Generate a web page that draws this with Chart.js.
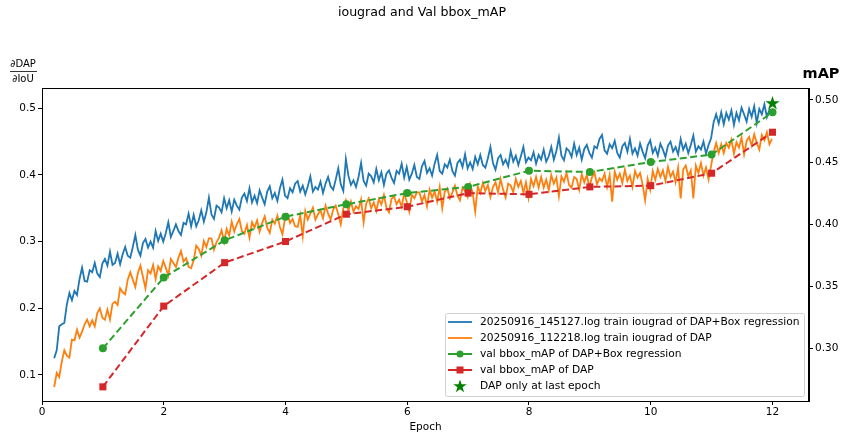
<!DOCTYPE html>
<html>
<head>
<meta charset="utf-8">
<script src="https://cdn.jsdelivr.net/npm/chart.js@4.4.1/dist/chart.umd.min.js"></script>
<style>
  html, body { margin: 0; padding: 0; background: #fff; }
  #wrap { width: 844px; height: 435px; position: relative; }
</style>
</head>
<body>
<div id="wrap"><canvas id="chart"></canvas></div>
<script>
// iougrad (left axis) per training iteration + val bbox_mAP per epoch (right axis).

// Training logs: one value every 1/24 epoch, starting at epoch 0.2 (one row = one epoch).
const trainEpochStart = 0.2;
const trainPointsPerEpoch = 24;

const iougradBoxReg = [
  0.125, 0.137, 0.173, 0.176, 0.178, 0.206, 0.223, 0.212, 0.226, 0.220, 0.244, 0.261, 0.241, 0.240, 0.257, 0.254, 0.268, 0.252, 0.247, 0.267, 0.274, 0.264, 0.285, 0.265,
  0.268, 0.282, 0.266, 0.281, 0.292, 0.279, 0.276, 0.292, 0.310, 0.288, 0.279, 0.298, 0.304, 0.291, 0.300, 0.291, 0.316, 0.301, 0.312, 0.300, 0.313, 0.329, 0.307, 0.316,
  0.326, 0.316, 0.310, 0.328, 0.326, 0.342, 0.323, 0.340, 0.323, 0.332, 0.347, 0.330, 0.344, 0.366, 0.341, 0.334, 0.354, 0.351, 0.344, 0.365, 0.350, 0.362, 0.345, 0.363,
  0.354, 0.348, 0.366, 0.372, 0.361, 0.380, 0.359, 0.369, 0.358, 0.377, 0.366, 0.356, 0.375, 0.383, 0.365, 0.373, 0.361, 0.380, 0.393, 0.369, 0.365, 0.380, 0.374, 0.387,
  0.391, 0.375, 0.384, 0.371, 0.383, 0.398, 0.375, 0.382, 0.378, 0.390, 0.373, 0.387, 0.397, 0.383, 0.378, 0.393, 0.410, 0.386, 0.376, 0.424, 0.399, 0.385, 0.392, 0.382,
  0.397, 0.418, 0.391, 0.384, 0.402, 0.398, 0.389, 0.409, 0.392, 0.404, 0.385, 0.402, 0.407, 0.396, 0.388, 0.406, 0.402, 0.417, 0.396, 0.412, 0.393, 0.402, 0.415, 0.397,
  0.394, 0.413, 0.421, 0.403, 0.410, 0.399, 0.417, 0.430, 0.406, 0.402, 0.416, 0.411, 0.423, 0.406, 0.399, 0.418, 0.423, 0.412, 0.431, 0.410, 0.419, 0.409, 0.427, 0.416,
  0.430, 0.415, 0.411, 0.425, 0.442, 0.418, 0.408, 0.425, 0.430, 0.416, 0.423, 0.413, 0.436, 0.420, 0.429, 0.415, 0.428, 0.442, 0.419, 0.426, 0.422, 0.434, 0.417, 0.430,
  0.423, 0.438, 0.420, 0.428, 0.442, 0.423, 0.436, 0.456, 0.429, 0.422, 0.440, 0.436, 0.427, 0.447, 0.430, 0.441, 0.423, 0.439, 0.445, 0.433, 0.426, 0.443, 0.440, 0.454,
  0.460, 0.437, 0.432, 0.446, 0.440, 0.451, 0.433, 0.426, 0.443, 0.448, 0.435, 0.454, 0.432, 0.440, 0.429, 0.447, 0.435, 0.425, 0.444, 0.452, 0.433, 0.441, 0.429, 0.447,
  0.438, 0.427, 0.444, 0.450, 0.435, 0.442, 0.431, 0.454, 0.438, 0.447, 0.433, 0.445, 0.459, 0.435, 0.443, 0.438, 0.450, 0.432, 0.445, 0.455, 0.479, 0.491, 0.477, 0.494,
  0.476, 0.493, 0.483, 0.497, 0.475, 0.493, 0.482, 0.501, 0.491, 0.480, 0.499, 0.487, 0.503, 0.478, 0.499, 0.491, 0.506, 0.487, 0.498, 0.490,
];

const iougradDap = [
  0.082, 0.103, 0.097, 0.120, 0.137, 0.129, 0.126, 0.153, 0.152, 0.168, 0.156, 0.165, 0.176, 0.183, 0.173, 0.182, 0.173, 0.193, 0.200, 0.186, 0.183, 0.198, 0.183, 0.207,
  0.210, 0.205, 0.230, 0.224, 0.221, 0.243, 0.254, 0.243, 0.232, 0.253, 0.264, 0.247, 0.230, 0.257, 0.252, 0.265, 0.244, 0.263, 0.256, 0.271, 0.261, 0.249, 0.274, 0.268,
  0.262, 0.276, 0.286, 0.270, 0.275, 0.262, 0.260, 0.272, 0.294, 0.289, 0.279, 0.301, 0.292, 0.305, 0.305, 0.288, 0.299, 0.306, 0.317, 0.300, 0.319, 0.309, 0.330, 0.315,
  0.326, 0.334, 0.316, 0.312, 0.325, 0.306, 0.329, 0.321, 0.332, 0.315, 0.328, 0.338, 0.321, 0.313, 0.333, 0.327, 0.339, 0.322, 0.311, 0.335, 0.341, 0.328, 0.334, 0.323,
  0.322, 0.340, 0.308, 0.346, 0.333, 0.342, 0.351, 0.333, 0.341, 0.347, 0.335, 0.354, 0.342, 0.333, 0.348, 0.354, 0.341, 0.326, 0.350, 0.362, 0.346, 0.360, 0.345, 0.353,
  0.349, 0.363, 0.329, 0.357, 0.365, 0.350, 0.359, 0.346, 0.364, 0.356, 0.370, 0.351, 0.344, 0.364, 0.368, 0.356, 0.363, 0.352, 0.373, 0.360, 0.345, 0.370, 0.365, 0.374,
  0.374, 0.360, 0.370, 0.353, 0.378, 0.366, 0.375, 0.360, 0.382, 0.350, 0.375, 0.380, 0.365, 0.374, 0.384, 0.369, 0.362, 0.381, 0.376, 0.367, 0.386, 0.373, 0.345, 0.383,
  0.373, 0.388, 0.376, 0.385, 0.367, 0.382, 0.389, 0.374, 0.394, 0.378, 0.366, 0.387, 0.384, 0.374, 0.394, 0.382, 0.391, 0.373, 0.389, 0.366, 0.394, 0.383, 0.397, 0.381,
  0.397, 0.381, 0.393, 0.377, 0.400, 0.387, 0.396, 0.368, 0.398, 0.390, 0.403, 0.385, 0.381, 0.397, 0.394, 0.378, 0.401, 0.389, 0.400, 0.382, 0.396, 0.404, 0.386, 0.395,
  0.391, 0.402, 0.382, 0.400, 0.360, 0.405, 0.393, 0.402, 0.388, 0.408, 0.391, 0.399, 0.382, 0.406, 0.396, 0.403, 0.386, 0.362, 0.394, 0.378, 0.406, 0.393, 0.409, 0.397,
  0.407, 0.391, 0.412, 0.397, 0.405, 0.389, 0.411, 0.365, 0.408, 0.414, 0.398, 0.407, 0.365, 0.414, 0.403, 0.418, 0.399, 0.411, 0.393, 0.414, 0.434, 0.448, 0.433, 0.446,
  0.433, 0.448, 0.441, 0.453, 0.432, 0.449, 0.441, 0.456, 0.431, 0.451, 0.457, 0.444, 0.461, 0.448, 0.438, 0.460, 0.452, 0.464, 0.446, 0.454,
];

// Validation mAP per epoch
const valEpochs = [1, 2, 3, 4, 5, 6, 7, 8, 9, 10, 11, 12];
const valMapBoxReg = [0.300, 0.357, 0.387, 0.406, 0.416, 0.425, 0.430, 0.443, 0.442, 0.450, 0.456, 0.490];
const valMapDap = [0.269, 0.334, 0.369, 0.386, 0.408, 0.414, 0.425, 0.424, 0.430, 0.431, 0.441, 0.474];
const lastEpochDapOnly = [{ x: 12, y: 0.498 }];

const seriesLabels = [
  '20250916_145127.log train iougrad of DAP+Box regression',
  '20250916_112218.log train iougrad of DAP',
  'val bbox_mAP of DAP+Box regression',
  'val bbox_mAP of DAP',
  'DAP only at last epoch',
];

const C_BLUE = '#1f77b4', C_ORANGE = '#ff7f0e', C_GREEN = '#2ca02c', C_RED = '#d62728', C_STAR = '#008000';
const FONT = 'DejaVu Sans';
const TICK_SIZE = 10.5;

function toTrainPoints(vals) {
  return vals.map((v, i) => ({ x: trainEpochStart + i / trainPointsPerEpoch, y: v }));
}

function starPath(g, cx, cy, r) {
  const ri = r * 0.382;
  g.beginPath();
  for (let i = 0; i < 10; i++) {
    const rad = i % 2 ? ri : r;
    const a = -Math.PI / 2 + i * Math.PI / 5;
    g.lineTo(cx + rad * Math.cos(a), cy + rad * Math.sin(a));
  }
  g.closePath();
}

function starCanvas(size, color) {
  const c = document.createElement('canvas');
  c.width = c.height = size;
  const g = c.getContext('2d');
  starPath(g, size / 2, size / 2 + 1, size / 2);
  g.fillStyle = color;
  g.fill();
  return c;
}

const starImg = starCanvas(15, C_STAR);

// Frame, fraction axis label, "mAP" label and the matplotlib-like legend
const decorations = {
  id: 'decorations',
  afterDraw(chart) {
    const { ctx, chartArea: a } = chart;
    ctx.save();
    ctx.strokeStyle = '#000';
    ctx.lineWidth = 1;
    ctx.strokeRect(Math.round(a.left) + 0.5, Math.round(a.top) + 0.5,
      Math.round(a.right - a.left) - 1, Math.round(a.bottom - a.top));

    // ∂DAP / ∂IoU
    ctx.fillStyle = '#000';
    ctx.font = `10px "${FONT}"`;
    ctx.textAlign = 'center';
    ctx.textBaseline = 'middle';
    ctx.fillText('∂DAP', 23, 64);
    ctx.fillText('∂IoU', 23, 79);
    ctx.beginPath();
    ctx.moveTo(10, 71.5); ctx.lineTo(37, 71.5);
    ctx.lineWidth = 0.8;
    ctx.stroke();

    // mAP
    ctx.font = `bold 14.5px "${FONT}"`;
    ctx.fillText('mAP', 821, 74);

    // legend
    const bx = 445.5, by = 313.5, bw = 359, bh = 83;
    ctx.fillStyle = 'rgba(255,255,255,0.8)';
    ctx.strokeStyle = '#d0d0d0';
    ctx.lineWidth = 1;
    ctx.beginPath();
    ctx.roundRect(bx, by, bw, bh, 2);
    ctx.fill();
    ctx.stroke();

    ctx.font = `10.7px "${FONT}"`;
    ctx.textAlign = 'left';
    const rowY = [322, 338, 354, 370, 385.5];
    const hx0 = 448, hx1 = 472, tx = 480;
    rowY.forEach((y, i) => {
      ctx.lineWidth = i < 2 ? 1.8 : 2;
      if (i < 4) {
        ctx.strokeStyle = [C_BLUE, C_ORANGE, C_GREEN, C_RED][i];
        ctx.beginPath(); ctx.moveTo(hx0, y); ctx.lineTo(hx1, y); ctx.stroke();
      }
      const mx = (hx0 + hx1) / 2;
      if (i === 2) {
        ctx.fillStyle = C_GREEN;
        ctx.beginPath(); ctx.arc(mx, y, 3.5, 0, Math.PI * 2); ctx.fill();
      } else if (i === 3) {
        ctx.fillStyle = C_RED;
        ctx.fillRect(mx - 3.5, y - 3.5, 7, 7);
      } else if (i === 4) {
        ctx.fillStyle = C_STAR;
        starPath(ctx, mx, y + 1, 7);
        ctx.fill();
      }
      ctx.fillStyle = '#000';
      ctx.fillText(seriesLabels[i], tx, y + 0.5);
    });
    ctx.restore();
  },
};

Chart.defaults.font.family = FONT;
Chart.defaults.color = '#000';

new Chart(document.getElementById('chart'), {
  type: 'line',
  data: {
    datasets: [
      {
        label: seriesLabels[0], data: toTrainPoints(iougradBoxReg), yAxisID: 'y',
        borderColor: C_BLUE, borderWidth: 1.8, pointRadius: 0, tension: 0, order: 5,
      },
      {
        label: seriesLabels[1], data: toTrainPoints(iougradDap), yAxisID: 'y',
        borderColor: C_ORANGE, borderWidth: 1.8, pointRadius: 0, tension: 0, order: 4,
      },
      {
        label: seriesLabels[2], data: valEpochs.map((e, i) => ({ x: e, y: valMapBoxReg[i] })), yAxisID: 'y1',
        borderColor: C_GREEN, backgroundColor: C_GREEN, borderWidth: 2, borderDash: [7, 3.5],
        pointStyle: 'circle', pointRadius: 4, pointBorderWidth: 0, order: 3,
      },
      {
        label: seriesLabels[3], data: valEpochs.map((e, i) => ({ x: e, y: valMapDap[i] })), yAxisID: 'y1',
        borderColor: C_RED, backgroundColor: C_RED, borderWidth: 2, borderDash: [7, 3.5],
        pointStyle: 'rect', pointRadius: 5, pointBorderWidth: 0, order: 2,
      },
      {
        label: seriesLabels[4], data: lastEpochDapOnly, yAxisID: 'y1', showLine: false,
        pointStyle: starImg, pointRadius: 8, order: 1,
      },
    ],
  },
  options: {
    responsive: true,
    maintainAspectRatio: false,
    animation: false,
    layout: { padding: 0 },
    plugins: {
      legend: { display: false },
      tooltip: { enabled: false },
      title: {
        display: true,
        text: 'iougrad and Val bbox_mAP',
        color: '#000',
        font: { size: 12.6, weight: 'normal', family: FONT },
        padding: { top: 5, bottom: 67.9 },
      },
    },
    scales: {
      x: {
        type: 'linear', min: 0, max: 12.6,
        afterFit: s => { s.height = 34; },
        ticks: { stepSize: 2, includeBounds: false, padding: 1, color: '#000', font: { size: TICK_SIZE } },
        grid: { drawOnChartArea: false, tickLength: 4, color: '#000' },
        border: { color: '#000' },
        title: { display: true, text: 'Epoch', color: '#000', font: { size: TICK_SIZE }, padding: { top: 0, bottom: 1 } },
      },
      y: {
        position: 'left', min: 0.061, max: 0.5304,
        afterFit: s => { s.width = 42; },
        ticks: { stepSize: 0.1, includeBounds: false, padding: 2, color: '#000', font: { size: TICK_SIZE },
          callback: v => v.toFixed(1) },
        grid: { drawOnChartArea: false, tickLength: 4, color: '#000' },
        border: { color: '#000' },
      },
      y1: {
        position: 'right', min: 0.2576, max: 0.5096,
        afterFit: s => { s.width = 35; },
        ticks: { stepSize: 0.05, includeBounds: false, padding: 2, color: '#000', font: { size: TICK_SIZE },
          callback: v => v.toFixed(2) },
        grid: { drawOnChartArea: false, tickLength: 4, color: '#000' },
        border: { color: '#000' },
      },
    },
  },
  plugins: [decorations],
});
</script>
</body>
</html>
